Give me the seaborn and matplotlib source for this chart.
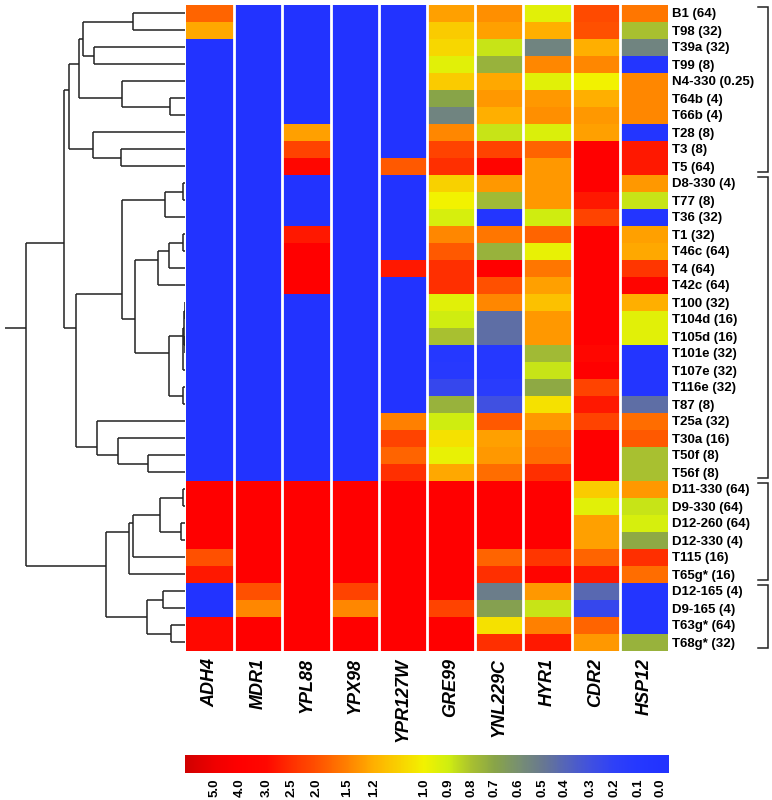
import numpy as np
import pandas as pd
import matplotlib
matplotlib.use("Agg")
import matplotlib.pyplot as plt
import seaborn as sns
from matplotlib.colors import FuncNorm, LinearSegmentedColormap
from matplotlib.collections import LineCollection
from matplotlib.transforms import blended_transform_factory

# ---------------- data ----------------
genes = ["ADH4", "MDR1", "YPL88", "YPX98", "YPR127W", "GRE99", "YNL229C", "HYR1", "CDR2", "HSP12"]
strains = ["B1 (64)", "T98 (32)", "T39a (32)", "T99 (8)", "N4-330 (0.25)", "T64b (4)", "T66b (4)",
           "T28 (8)", "T3 (8)", "T5 (64)", "D8-330 (4)", "T77 (8)", "T36 (32)", "T1 (32)",
           "T46c (64)", "T4 (64)", "T42c (64)", "T100 (32)", "T104d (16)", "T105d (16)",
           "T101e (32)", "T107e (32)", "T116e (32)", "T87 (8)", "T25a (32)", "T30a (16)",
           "T50f (8)", "T56f (8)", "D11-330 (64)", "D9-330 (64)", "D12-260 (64)", "D12-330 (4)",
           "T115 (16)", "T65g* (16)", "D12-165 (4)", "D9-165 (4)", "T63g* (64)", "T68g* (32)"]

ADH4 = [1.8, 1.25, 0, 0, 0, 0, 0, 0, 0, 0,
        0, 0, 0, 0, 0, 0, 0, 0, 0, 0,
        0, 0, 0, 0, 0, 0, 0, 0,
        4.0, 4.0, 4.0, 4.0, 2.0, 2.8, 0, 0, 3.0, 3.0]
MDR1 = [0, 0, 0, 0, 0, 0, 0, 0, 0, 0,
        0, 0, 0, 0, 0, 0, 0, 0, 0, 0,
        0, 0, 0, 0, 0, 0, 0, 0,
        4.0, 4.0, 4.0, 4.0, 4.0, 4.0, 2.0, 1.45, 4.0, 4.0]
YPL88 = [0, 0, 0, 0, 0, 0, 0, 1.3, 2.2, 3.2,
         0, 0, 0, 2.8, 4.0, 4.0, 4.0, 0, 0, 0,
         0, 0, 0, 0, 0, 0, 0, 0,
         4.0, 4.0, 4.0, 4.0, 4.0, 4.0, 4.0, 4.0, 4.0, 4.0]
YPX98 = [0, 0, 0, 0, 0, 0, 0, 0, 0, 0,
         0, 0, 0, 0, 0, 0, 0, 0, 0, 0,
         0, 0, 0, 0, 0, 0, 0, 0,
         4.0, 4.0, 4.0, 4.0, 4.0, 4.0, 2.2, 1.45, 4.0, 4.0]
YPR127W = [0, 0, 0, 0, 0, 0, 0, 0, 0, 1.9,
           0, 0, 0, 0, 0, 2.8, 0, 0, 0, 0,
           0, 0, 0, 0, 1.5, 2.2, 1.8, 2.5,
           4.0, 4.0, 4.0, 4.0, 4.0, 4.0, 4.0, 4.0, 4.0, 4.0]
GRE99 = [1.3, 1.12, 1.08, 0.95, 1.12, 0.7, 0.55, 1.45, 2.2, 2.5,
         1.1, 1.0, 0.92, 1.45, 1.9, 2.5, 2.5, 0.95, 0.9, 0.8,
         0.1, 0.12, 0.25, 0.75, 0.9, 1.05, 0.97, 1.25,
         4.0, 4.0, 4.0, 4.0, 4.0, 4.0, 4.0, 2.2, 4.0, 4.0]
YNL229C = [1.4, 1.3, 0.88, 0.75, 1.25, 1.35, 1.2, 0.88, 2.2, 3.5,
           1.35, 0.78, 0.05, 1.6, 0.75, 4.0, 2.0, 1.45, 0.45, 0.45,
           0.1, 0.1, 0.15, 0.3, 1.9, 1.3, 1.35, 1.7,
           4.0, 4.0, 4.0, 4.0, 1.8, 2.5, 0.52, 0.68, 1.05, 2.5]
HYR1 = [0.95, 1.2, 0.55, 1.45, 0.95, 1.35, 1.4, 0.93, 1.8, 1.35,
        1.35, 1.35, 0.9, 1.8, 0.97, 1.6, 1.3, 1.15, 1.35, 1.35,
        0.78, 0.88, 0.72, 1.05, 1.35, 1.6, 1.7, 2.5,
        4.0, 4.0, 4.0, 4.0, 2.4, 3.5, 1.35, 0.88, 1.5, 2.8]
CDR2 = [2.1, 2.0, 1.2, 1.45, 1.0, 1.2, 1.35, 1.3, 4.0, 4.0,
        4.0, 2.8, 2.2, 4.0, 4.0, 4.0, 4.0, 4.0, 4.0, 4.0,
        3.2, 4.0, 2.2, 2.8, 2.2, 4.0, 4.0, 4.0,
        1.12, 0.95, 1.3, 1.3, 1.8, 2.8, 0.42, 0.25, 1.8, 1.35]
HSP12 = [1.6, 0.8, 0.55, 0.05, 1.45, 1.45, 1.45, 0.05, 2.8, 2.8,
         1.35, 0.88, 0.05, 1.3, 1.25, 2.4, 3.5, 1.2, 0.95, 0.95,
         0.05, 0.05, 0.05, 0.45, 1.7, 1.9, 0.8, 0.8,
         1.35, 0.88, 0.92, 0.72, 2.5, 1.7, 0.05, 0.05, 0.05, 0.75]

# hierarchical clustering of rows: (child a, child b, height); ids >= 38 are earlier merges
merges = [
    (0, 1, 5.23), (2, 3, 9.07), (38, 39, 10.23), (5, 6, 1.47), (4, 41, 6.27),
    (40, 42, 10.63), (8, 9, 6.43), (7, 44, 9.23), (43, 45, 11.57),
    (10, 11, 0.17), (47, 12, 2.0), (13, 14, 0.17), (49, 15, 1.57), (50, 16, 2.67),
    (17, 18, 0.05), (19, 20, 0.05), (52, 53, 0.10), (54, 21, 0.17), (22, 23, 0.17),
    (55, 56, 1.57), (51, 57, 5.0), (48, 58, 6.33), (26, 27, 3.67), (25, 60, 6.7),
    (24, 61, 8.83), (59, 62, 10.9), (46, 63, 12.1),
    (28, 29, 0.17), (30, 31, 0.4), (65, 66, 2.5), (67, 32, 5.17), (68, 33, 5.57),
    (34, 35, 2.23), (36, 37, 1.43), (70, 71, 3.83), (69, 72, 7.9), (64, 73, 15.9),
]

# strain groups marked by brackets (first row, last row)
groups = [(0, 9), (10, 27), (28, 33), (34, 37)]

# colour scale: values and their place along the key (px from the blue end)
scale_vals = [-0.04, 0.0, 0.1, 0.2, 0.3, 0.4, 0.5, 0.6, 0.7, 0.8, 0.9, 1.0,
              1.2, 1.5, 2.0, 2.5, 3.0, 4.0, 5.0, 6.2]
scale_pos = [0, 9, 31, 54, 78.3, 104, 126, 151, 174, 197.3, 221, 245,
             295, 322.3, 352.3, 377.3, 402.3, 429, 454, 484]
scale_cols = ["#2233ff", "#2233ff", "#2538ff", "#2e40f8", "#4050e0", "#5565b8", "#687890",
              "#789070", "#88a448", "#a8c030", "#d0ee10", "#f2f200",
              "#ffb000", "#ff8000", "#ff5000", "#ff3000", "#ff0800", "#ff0000", "#f00000", "#d00000"]
tick_vals = [5.0, 4.0, 3.0, 2.5, 2.0, 1.5, 1.2, 1.0, 0.9, 0.8, 0.7, 0.6, 0.5, 0.4, 0.3, 0.2, 0.1, 0.0]

# ---------------- figure ----------------
plt.rcParams["font.family"] = ["Liberation Sans", "DejaVu Sans"]

df = pd.DataFrame({"ADH4": ADH4, "MDR1": MDR1, "YPL88": YPL88, "YPX98": YPX98,
                   "YPR127W": YPR127W, "GRE99": GRE99, "YNL229C": YNL229C,
                   "HYR1": HYR1, "CDR2": CDR2, "HSP12": HSP12}, index=strains)[genes]

sv = np.array(scale_vals, float)
sp = np.array(scale_pos, float)


def fwd(x):
    return np.interp(x, sv, sp)


def inv(y):
    return np.interp(y, sp, sv)


norm = FuncNorm((fwd, inv), vmin=sv[0], vmax=sv[-1])
cmap = LinearSegmentedColormap.from_list("fold", list(zip(sp / sp[-1], scale_cols)), N=512)

W, H = 772, 800
fig = plt.figure(figsize=(W / 100, H / 100), dpi=100)

hm_l, hm_r, hm_t, hm_b = 186, 668, 4.5, 650.5
ax = fig.add_axes([hm_l / W, 1 - hm_b / H, (hm_r - hm_l) / W, (hm_b - hm_t) / H])
cax = fig.add_axes([185 / W, 1 - 773 / H, 484 / W, 18 / H])
dax = fig.add_axes([5 / W, 1 - hm_b / H, (hm_l - 1 - 5) / W, (hm_b - hm_t) / H])

sns.heatmap(df, ax=ax, cmap=cmap, norm=norm, cbar=True, cbar_ax=cax,
            cbar_kws={"orientation": "horizontal"},
            xticklabels=genes, yticklabels=strains)

for i in range(1, len(genes)):
    ax.axvline(i, color="white", lw=2.0)

ax.yaxis.tick_right()
ax.set_yticks(np.arange(len(strains)) + 0.5)
ax.set_yticklabels(strains, rotation=0, ha="left", fontweight="bold", fontsize=9.5)
ax.set_xticklabels(genes, rotation=90, fontweight="bold", fontstyle="italic", fontsize=13)
ax.tick_params(axis="y", length=0, pad=3)
ax.tick_params(axis="x", length=0, pad=5.5)
ax.set_xlabel("")
ax.set_ylabel("")

# brackets
tr = blended_transform_factory(ax.transAxes, ax.transData)
bx0, bx1 = 1.187, 1.2075
for g0, g1 in groups:
    yt, yb = g0 + 0.12, g1 + 1 - 0.12
    ax.plot([bx0, bx1, bx1, bx0], [yt, yt, yb, yb], color="#222222", lw=1.1,
            transform=tr, clip_on=False, solid_joinstyle="miter")

# colorbar
cb = ax.collections[0].colorbar
cb.outline.set_linewidth(0)
cb.set_ticks(tick_vals, labels=[f"{v:.1f}" for v in tick_vals])
cb.ax.invert_xaxis()
cb.ax.tick_params(axis="x", length=0, pad=4, labelsize=9.5, labelrotation=90)
for t in cb.ax.get_xticklabels():
    t.set_fontweight("bold")
cb.ax.minorticks_off()

# dendrogram
n = len(strains)
pos = {i: i + 0.5 for i in range(n)}
hgt = {i: 0.0 for i in range(n)}
span = {i: (i, i) for i in range(n)}
segs = []
for k, (a, b, h) in enumerate(merges):
    nid = n + k
    lo = min(span[a][0], span[b][0])
    hi = max(span[a][1], span[b][1])
    span[nid] = (lo, hi)
    pos[nid] = (lo + hi) / 2 + 0.5
    hgt[nid] = h
    segs.append([(hgt[a], pos[a]), (h, pos[a])])
    segs.append([(hgt[b], pos[b]), (h, pos[b])])
    segs.append([(h, pos[a]), (h, pos[b])])
root = n + len(merges) - 1
d_xmax = 18.0
segs.append([(hgt[root], pos[root]), (d_xmax, pos[root])])
dax.add_collection(LineCollection(segs, colors="#222222", linewidths=1.1))
dax.set_xlim(d_xmax, 0)
dax.set_ylim(n, 0)
dax.axis("off")

fig.savefig("out.png", dpi=100)
